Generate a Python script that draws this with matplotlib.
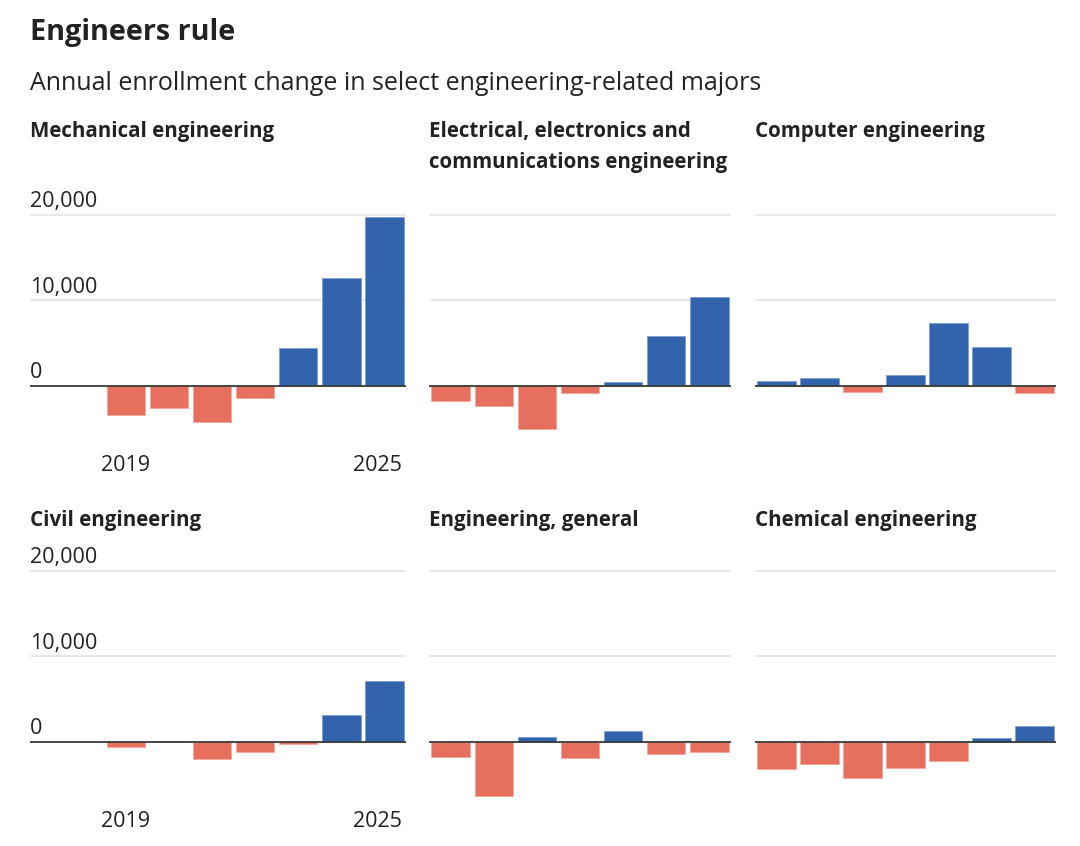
import matplotlib.pyplot as plt

plt.rcParams['font.family'] = ['Open Sans', 'DejaVu Sans']

# canvas size in pixels (dpi 100)
W, H = 1080, 846

years = [2019, 2020, 2021, 2022, 2023, 2024, 2025]
titles = ["Mechanical engineering",
          "Electrical, electronics and\ncommunications engineering",
          "Computer engineering",
          "Civil engineering",
          "Engineering, general",
          "Chemical engineering"]

# annual enrollment change, 2019-2025
mechanical = [-3430, -2570, -4280, -1440, 4380, 12570, 19780]
electrical = [-1800, -2380, -5070, -820, 390, 5810, 10380]
computer = [510, 940, -780, 1210, 7330, 4560, -860]
civil = [-630, 0, -2030, -1170, -230, 3090, 7070]
general = [-1800, -6370, 590, -1910, 1210, -1410, -1210]
chemical = [-3240, -2580, -4260, -3120, -2300, 430, 1830]
series = [mechanical, electrical, computer, civil, general, chemical]

grid_values = [0, 10000, 20000]
grid_labels = ["0", "10,000", "20,000"]
year_labels = ["2019", "2025"]

BLUE = '#3164ad'
RED = '#e76f5e'
TEXT = '#222222'

fig = plt.figure(figsize=(W / 100, H / 100), dpi=100)
fig.patch.set_facecolor('white')


def px_axes(x0, y_top, x1, y_bot):
    return fig.add_axes([x0 / W, 1 - y_bot / H, (x1 - x0) / W, (y_bot - y_top) / H])


# column edges (px) and row zero-lines (px)
cols = [(30, 405.7), (429.3, 730.7), (755, 1055.7)]
zero_rows = [385.7, 741.7]
title_rows = [136.7, 526]
scale = 85.3 / 10000  # px per unit
ymin, ymax = -7000, 20400

for k, vals in enumerate(series):
    r, c = divmod(k, 3)
    x0, x1 = cols[c]
    z = zero_rows[r]
    ax = px_axes(x0, z - ymax * scale, x1, z - ymin * scale)
    xs = list(range(len(years)))
    colors = [BLUE if v >= 0 else RED for v in vals]
    edges = ['#7f9fd0' if v >= 0 else '#f2a89c' for v in vals]
    ax.bar(xs, vals, width=0.9, color=colors, edgecolor=edges, linewidth=0.6, zorder=2)
    for g in grid_values[1:]:
        ax.axhline(g, color='#e2e2e2', lw=1.1, zorder=1)
    ax.axhline(0, color='#3a3a3a', lw=1.3, zorder=3)
    ax.set_ylim(ymin, ymax)
    if c == 0:
        ax.set_xlim(-2.23, 6.5)
        for g, lab in zip(grid_values, grid_labels):
            ax.annotate(lab, xy=(0, g), xycoords=('axes fraction', 'data'),
                        xytext=(0, 5.6), textcoords='offset points',
                        ha='left', va='baseline', fontsize=15.5, color=TEXT)
        ax.annotate(year_labels[0], xy=(0, 0), xytext=(0, -61.2),
                    textcoords='offset points', ha='center', va='baseline',
                    fontsize=15.5, color=TEXT)
        ax.annotate(year_labels[1], xy=(6.4, 0), xytext=(0, -61.2),
                    textcoords='offset points', ha='right', va='baseline',
                    fontsize=15.5, color=TEXT)
    else:
        ax.set_xlim(-0.5, 6.5)
    ax.axis('off')

    for i, line in enumerate(titles[k].split("\n")):
        fig.text(x0 / W, 1 - (title_rows[r] + i * 31.7) / H, line,
                 ha='left', va='baseline', fontsize=14.8, fontweight='bold', color=TEXT)

fig.text(30 / W, 1 - 40 / H, "Engineers rule", ha='left', va='baseline',
         fontsize=20.7, fontweight='bold', color=TEXT)
fig.text(30 / W, 1 - 90 / H, "Annual enrollment change in select engineering-related majors",
         ha='left', va='baseline', fontsize=18, color=TEXT)

fig.savefig('out.png', dpi=100, facecolor='white')
